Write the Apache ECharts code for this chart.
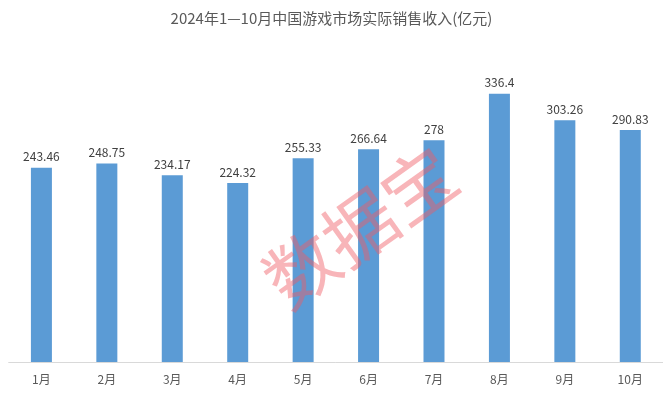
<!DOCTYPE html>
<html>
<head>
<meta charset="utf-8">
<script src="https://cdn.jsdelivr.net/npm/echarts@6/dist/echarts.min.js"></script>
<style>html,body{margin:0;padding:0;background:#fff}#c{width:663px;height:394px}</style>
</head>
<body>
<div id="c"></div>
<script>
const categories = ['1月','2月','3月','4月','5月','6月','7月','8月','9月','10月'];
const revenue = [243.46, 248.75, 234.17, 224.32, 255.33, 266.64, 278, 336.4, 303.26, 290.83];
const titleText = '2024年1—10月中国游戏市场实际销售收入(亿元)';
const watermarkText = '数据宝';

const chart = echarts.init(document.getElementById('c'), null, {renderer: 'canvas'});
const font = '"Microsoft YaHei","Noto Sans CJK SC",sans-serif';
chart.setOption({
  animation: false,
  backgroundColor: '#ffffff',
  title: {
    text: titleText,
    left: 'center',
    top: 6,
    textStyle: {fontSize: 15, fontWeight: 'normal', color: '#595959', fontFamily: font}
  },
  grid: {left: 8.7, top: 43, width: 656.7, bottom: 32, containLabel: false},
  xAxis: {
    type: 'category',
    data: categories,
    axisLine: {show: true, lineStyle: {color: '#d9d9d9', width: 1}},
    axisTick: {show: false},
    axisLabel: {color: '#595959', fontSize: 12, margin: 11, fontFamily: font}
  },
  yAxis: {
    type: 'value',
    min: 0,
    max: 400,
    show: false,
    splitLine: {show: false}
  },
  series: [{
    type: 'bar',
    data: revenue,
    barWidth: 21,
    itemStyle: {color: '#5B9BD5'},
    label: {
      show: true,
      position: 'top',
      distance: 5,
      color: '#404040',
      fontSize: 12,
      fontFamily: font
    }
  }],
  graphic: [{
    type: 'text',
    x: 360,
    y: 227,
    rotation: 0.62,
    z: 100,
    style: {
      text: watermarkText,
      fill: 'rgba(240,90,100,0.45)',
      fontSize: 72,
      fontWeight: 'normal',
      fontFamily: '"Noto Sans CJK SC",sans-serif',
      align: 'center',
      verticalAlign: 'middle'
    }
  }]
});
</script>
</body>
</html>
